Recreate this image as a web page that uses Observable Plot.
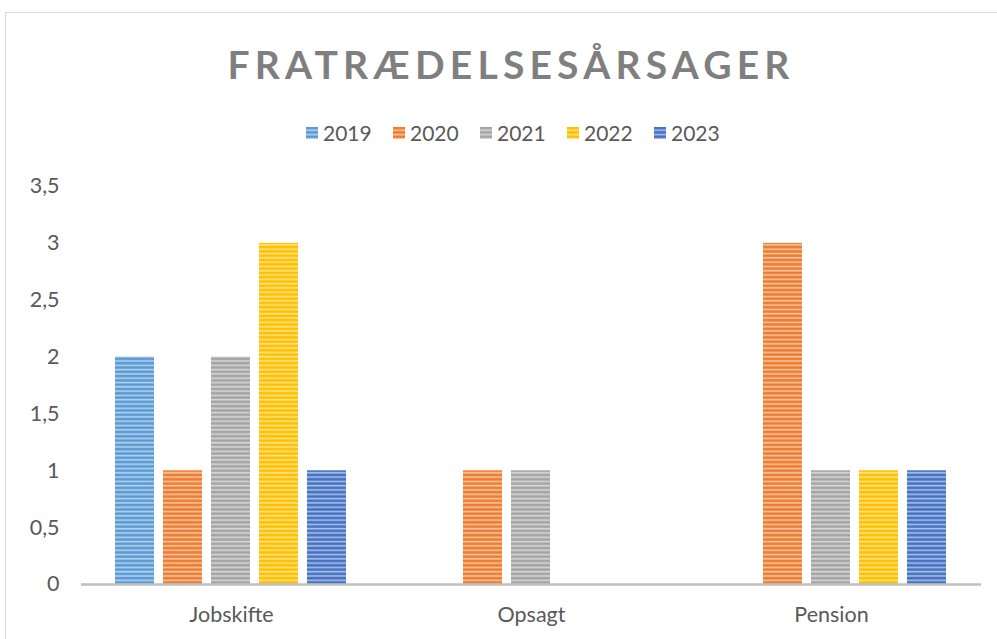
<!DOCTYPE html>
<html>
<head>
<meta charset="utf-8">
<script src="https://cdn.jsdelivr.net/npm/d3@7"></script>
<script src="https://cdn.jsdelivr.net/npm/@observablehq/plot@0.6"></script>
<style>
  html, body { margin: 0; padding: 0; background: #fff; }
  body { width: 997px; height: 639px; overflow: hidden; position: relative; font-family: Lato, "Open Sans", sans-serif; }
  #frame { position: absolute; left: 5px; top: 12px; width: 1010px; height: 660px; border: 1.5px solid #d9d9d9; box-sizing: border-box; }
  #title { position: absolute; left: 0; top: 41px; width: 1022px; text-align: center; font-weight: 700; font-size: 39px; letter-spacing: 5.2px; color: #7f7f7f; line-height: 46px; }
  #legend { position: absolute; top: 121px; left: 306px; display: flex; font-size: 21px; color: #595959; line-height: 24px; }
  .item { display: flex; align-items: center; width: 87px; }
  .item svg { margin-right: 5px; }
  #chart { position: absolute; left: 0; top: 160px; }
</style>
</head>
<body>
<svg width="0" height="0" style="position:absolute">
  <defs id="pats"></defs>
</svg>
<div id="frame"></div>
<div id="title">FRATRÆDELSESÅRSAGER</div>
<div id="legend"></div>
<div id="chart"></div>
<script>
const categories = ["Jobskifte", "Opsagt", "Pension"];
const years = ["2019", "2020", "2021", "2022", "2023"];
const values2019 = [2, 0, 0];
const values2020 = [1, 1, 3];
const values2021 = [2, 1, 1];
const values2022 = [3, 0, 1];
const values2023 = [1, 0, 1];
const yTicks = [0, 0.5, 1, 1.5, 2, 2.5, 3, 3.5];
const colors = ["#5B9BD5", "#ED7D31", "#A5A5A5", "#FFC000", "#4472C4"];

const series = [values2019, values2020, values2021, values2022, values2023];
const data = [];
categories.forEach((c, i) => years.forEach((y, j) => data.push({category: c, year: y, value: series[j][i]})));

// striped patterns
const defs = document.getElementById("pats");
years.forEach((y, j) => {
  const ns = "http://www.w3.org/2000/svg";
  const p = document.createElementNS(ns, "pattern");
  p.setAttribute("id", "p" + y);
  p.setAttribute("patternUnits", "userSpaceOnUse");
  p.setAttribute("width", "8");
  p.setAttribute("height", "4.3");
  const r1 = document.createElementNS(ns, "rect");
  r1.setAttribute("width", "8"); r1.setAttribute("height", "4.3"); r1.setAttribute("fill", colors[j]);
  const r2 = document.createElementNS(ns, "rect");
  r2.setAttribute("y", "2.4"); r2.setAttribute("width", "8"); r2.setAttribute("height", "1.6");
  r2.setAttribute("fill", "#fff"); r2.setAttribute("fill-opacity", "0.55");
  p.appendChild(r1); p.appendChild(r2);
  defs.appendChild(p);
});

// legend
const legend = document.getElementById("legend");
years.forEach((y) => {
  const d = document.createElement("div");
  d.className = "item";
  d.innerHTML = `<svg width="12" height="12"><rect width="12" height="12" fill="url(#p${y})"/></svg><span>${y}</span>`;
  legend.appendChild(d);
});

const fmt = d => String(d).replace(".", ",");

const chart = Plot.plot({
  width: 997,
  height: 479,
  marginTop: 26,
  marginBottom: 55,
  marginLeft: 80,
  marginRight: 16,
  style: {fontFamily: "Lato, 'Open Sans', sans-serif", fontSize: "21.5px", color: "#595959", background: "transparent"},
  fx: {domain: categories, padding: 0, label: null, axis: "bottom", tickSize: 0, tickPadding: 22},
  x: {domain: years, paddingInner: 0.18, paddingOuter: 0.667, axis: null},
  y: {domain: [0, 3.5], ticks: yTicks, tickFormat: fmt, tickSize: 0, tickPadding: 22, label: null},
  color: {domain: years, range: years.map(y => `url(#p${y})`)},
  marks: [
    Plot.barY(data, {fx: "category", x: "year", y: "value", fill: "year"}),
    Plot.ruleY([0], {stroke: "#bfbfbf", strokeWidth: 2.5})
  ]
});
document.getElementById("chart").appendChild(chart);
</script>
</body>
</html>
